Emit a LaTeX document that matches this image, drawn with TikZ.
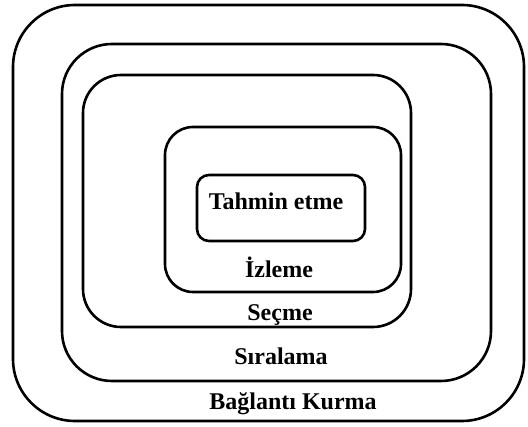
\documentclass[tikz,border=0pt]{standalone}
\usepackage{fontspec}
\setmainfont{Liberation Serif}
\begin{document}
\begin{tikzpicture}[x=1pt,y=-1pt,
  layer/.style={draw=black,line width=2.6pt,fill=none},
  lbl/.style={anchor=base,inner sep=0pt,font=\fontsize{24}{26}\selectfont\bfseries}]
\useasboundingbox (0,0) rectangle (528,427);
% nested stages, outermost first
\draw[layer,rounded corners=62] (13,5) rectangle (524,421);
\draw[layer,rounded corners=50] (62,44) rectangle (491,381);
\draw[layer,rounded corners=38] (83,75) rectangle (411,327);
\draw[layer,rounded corners=28] (165,127) rectangle (401,292);
\draw[layer,rounded corners=12] (197,175) rectangle (365,241);
% stage labels
\node[lbl] (tahmin) at (276,210) {Tahmin etme};
\node[lbl] (izleme) at (279,278) {İzleme};
\node[lbl] (secme) at (280,321) {Seçme};
\node[lbl] (siralama) at (281,365) {Sıralama};
\node[lbl] (baglanti) at (293,410) {Bağlantı Kurma};
\end{tikzpicture}
\end{document}
